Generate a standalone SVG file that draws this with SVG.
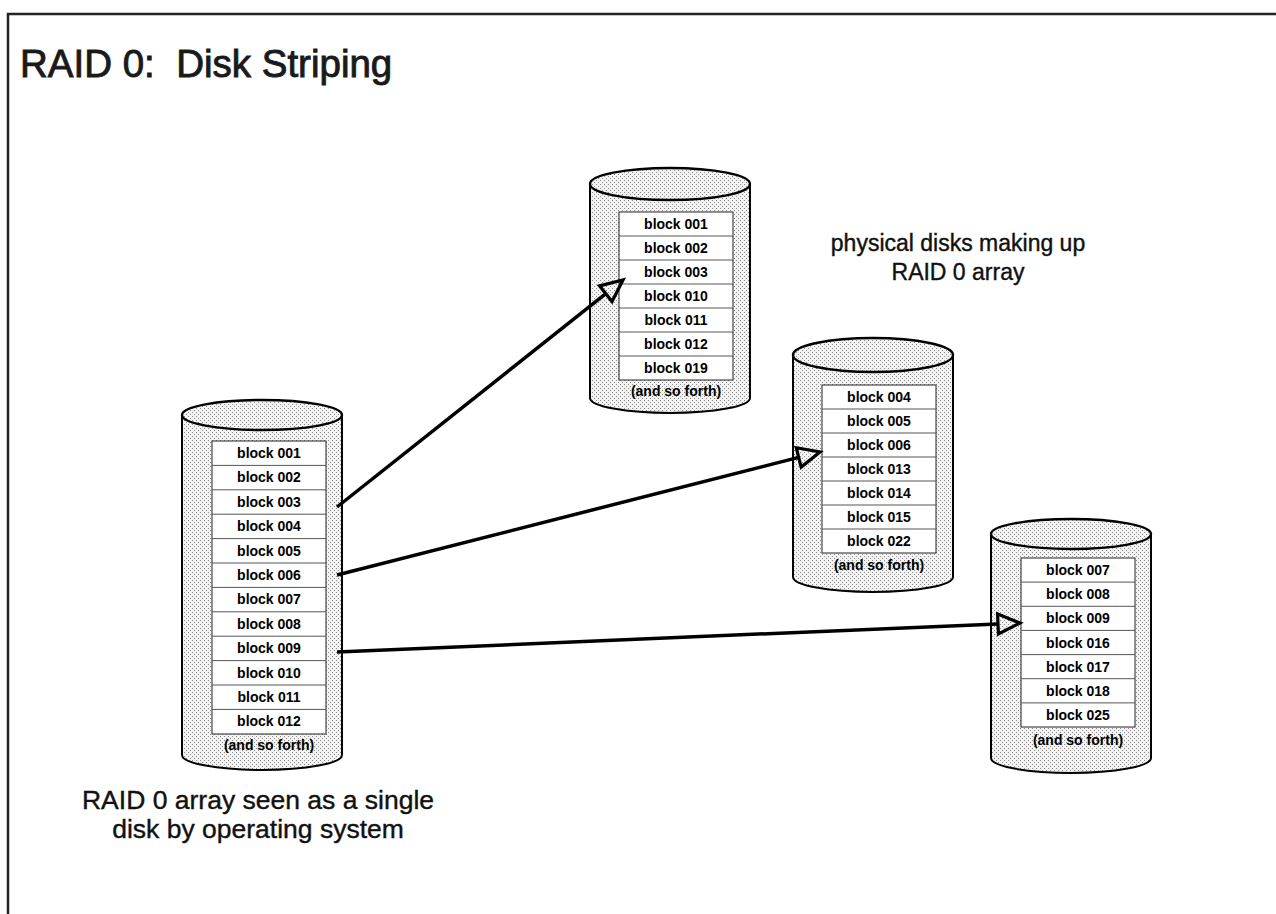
<svg xmlns="http://www.w3.org/2000/svg" width="1276" height="914" viewBox="0 0 1276 914">
  <defs>
    <pattern id="dots" width="4" height="4" patternUnits="userSpaceOnUse">
      <rect width="4" height="4" fill="#f3f3f3"/>
      <rect x="0" y="0" width="1" height="1" fill="#8a8a8a"/>
      <rect x="2" y="2" width="1" height="1" fill="#8a8a8a"/>
    </pattern>
    <marker id="hollow" markerUnits="userSpaceOnUse" markerWidth="32" markerHeight="26" viewBox="0 0 32 26" refX="4" refY="13" orient="auto">
      <path d="M4,3 L26,13 L4,23 Z" fill="none" stroke="#000" stroke-width="3.2" stroke-linejoin="miter"/>
    </marker>
  </defs>
  <style>
    .frame { fill: none; stroke: #222; stroke-width: 2.5; }
    .title { font-family: "Liberation Sans", Arial, sans-serif; font-size: 38.5px; fill: #1a1a1a; stroke: #1a1a1a; stroke-width: 0.9; white-space: pre; }
    .note { font-family: "Liberation Sans", Arial, sans-serif; font-size: 23px; fill: #111; stroke: #111; stroke-width: 0.4; text-anchor: middle; }
    .note-lg { font-size: 26.5px; }
    .body { fill: url(#dots); stroke: #000; stroke-width: 2; }
    .lid { fill: url(#dots); stroke: #000; stroke-width: 2.4; }
    .tbl { fill: #fff; stroke: #222; stroke-width: 1; }
    .row { stroke: #555; stroke-width: 1; }
    .blk { font-family: "Liberation Sans", Arial, sans-serif; font-weight: bold; font-size: 14px; fill: #000; text-anchor: middle; }
    .more { font-family: "Liberation Sans", Arial, sans-serif; font-weight: bold; font-size: 14px; fill: #000; text-anchor: middle; }
    .link { fill: none; stroke: #000; stroke-width: 3.5; marker-end: url(#hollow); }
  </style>

  <rect width="1276" height="914" fill="#fff"/>
  <path class="frame" d="M1276,14 L8,14 L8,914"/>

  <text class="title" x="20" y="77" xml:space="preserve">RAID 0:  Disk Striping</text>

  <!-- logical disk as the operating system sees it -->
  <g id="logical-disk">
    <path class="body" d="M182,415 L182,755 A80,15 0 0 0 342,755 L342,415 Z"/>
    <ellipse class="lid" cx="262" cy="415" rx="80" ry="15"/>
    <rect class="tbl" x="212" y="441" width="114" height="293"/>
    <g class="row">
      <line x1="212" y1="465.4" x2="326" y2="465.4"/>
      <line x1="212" y1="489.8" x2="326" y2="489.8"/>
      <line x1="212" y1="514.2" x2="326" y2="514.2"/>
      <line x1="212" y1="538.6" x2="326" y2="538.6"/>
      <line x1="212" y1="563" x2="326" y2="563"/>
      <line x1="212" y1="587.4" x2="326" y2="587.4"/>
      <line x1="212" y1="611.8" x2="326" y2="611.8"/>
      <line x1="212" y1="636.2" x2="326" y2="636.2"/>
      <line x1="212" y1="660.6" x2="326" y2="660.6"/>
      <line x1="212" y1="685" x2="326" y2="685"/>
      <line x1="212" y1="709.4" x2="326" y2="709.4"/>
    </g>
    <text class="blk" x="269" y="458">block 001</text>
    <text class="blk" x="269" y="482.4">block 002</text>
    <text class="blk" x="269" y="506.8">block 003</text>
    <text class="blk" x="269" y="531.2">block 004</text>
    <text class="blk" x="269" y="555.6">block 005</text>
    <text class="blk" x="269" y="580">block 006</text>
    <text class="blk" x="269" y="604.4">block 007</text>
    <text class="blk" x="269" y="628.8">block 008</text>
    <text class="blk" x="269" y="653.2">block 009</text>
    <text class="blk" x="269" y="677.6">block 010</text>
    <text class="blk" x="269" y="702">block 011</text>
    <text class="blk" x="269" y="726.4">block 012</text>
    <text class="more" x="269" y="750">(and so forth)</text>
  </g>

  <!-- physical disk 1 -->
  <g id="disk-1">
    <path class="body" d="M590,184 L590,398 A80,15 0 0 0 750,398 L750,184 Z"/>
    <ellipse class="lid" cx="670" cy="184" rx="80" ry="16"/>
    <rect class="tbl" x="619" y="212" width="114" height="168"/>
    <g class="row">
      <line x1="619" y1="236" x2="733" y2="236"/>
      <line x1="619" y1="260" x2="733" y2="260"/>
      <line x1="619" y1="284" x2="733" y2="284"/>
      <line x1="619" y1="308" x2="733" y2="308"/>
      <line x1="619" y1="332" x2="733" y2="332"/>
      <line x1="619" y1="356" x2="733" y2="356"/>
    </g>
    <text class="blk" x="676" y="229">block 001</text>
    <text class="blk" x="676" y="253">block 002</text>
    <text class="blk" x="676" y="277">block 003</text>
    <text class="blk" x="676" y="301">block 010</text>
    <text class="blk" x="676" y="325">block 011</text>
    <text class="blk" x="676" y="349">block 012</text>
    <text class="blk" x="676" y="373">block 019</text>
    <text class="more" x="676" y="396">(and so forth)</text>
  </g>

  <!-- physical disk 2 -->
  <g id="disk-2">
    <path class="body" d="M793,355 L793,577 A80,15 0 0 0 953,577 L953,355 Z"/>
    <ellipse class="lid" cx="873" cy="355" rx="80" ry="17"/>
    <rect class="tbl" x="822" y="385" width="114" height="168"/>
    <g class="row">
      <line x1="822" y1="409" x2="936" y2="409"/>
      <line x1="822" y1="433" x2="936" y2="433"/>
      <line x1="822" y1="457" x2="936" y2="457"/>
      <line x1="822" y1="481" x2="936" y2="481"/>
      <line x1="822" y1="505" x2="936" y2="505"/>
      <line x1="822" y1="529" x2="936" y2="529"/>
    </g>
    <text class="blk" x="879" y="402">block 004</text>
    <text class="blk" x="879" y="426">block 005</text>
    <text class="blk" x="879" y="450">block 006</text>
    <text class="blk" x="879" y="474">block 013</text>
    <text class="blk" x="879" y="498">block 014</text>
    <text class="blk" x="879" y="522">block 015</text>
    <text class="blk" x="879" y="546">block 022</text>
    <text class="more" x="879" y="570">(and so forth)</text>
  </g>

  <!-- physical disk 3 -->
  <g id="disk-3">
    <path class="body" d="M991,534 L991,758 A80,15 0 0 0 1151,758 L1151,534 Z"/>
    <ellipse class="lid" cx="1071" cy="534" rx="80" ry="15"/>
    <rect class="tbl" x="1021" y="558" width="114" height="169"/>
    <g class="row">
      <line x1="1021" y1="582.1" x2="1135" y2="582.1"/>
      <line x1="1021" y1="606.3" x2="1135" y2="606.3"/>
      <line x1="1021" y1="630.4" x2="1135" y2="630.4"/>
      <line x1="1021" y1="654.6" x2="1135" y2="654.6"/>
      <line x1="1021" y1="678.7" x2="1135" y2="678.7"/>
      <line x1="1021" y1="702.9" x2="1135" y2="702.9"/>
    </g>
    <text class="blk" x="1078" y="575">block 007</text>
    <text class="blk" x="1078" y="599.2">block 008</text>
    <text class="blk" x="1078" y="623.4">block 009</text>
    <text class="blk" x="1078" y="647.6">block 016</text>
    <text class="blk" x="1078" y="671.8">block 017</text>
    <text class="blk" x="1078" y="696">block 018</text>
    <text class="blk" x="1078" y="720.2">block 025</text>
    <text class="more" x="1078" y="745">(and so forth)</text>
  </g>

  <g id="label-physical">
    <text class="note" x="958" y="251">physical disks making up</text>
    <text class="note" x="958" y="280">RAID 0 array</text>
  </g>
  <g id="label-logical">
    <text class="note note-lg" x="258" y="809">RAID 0 array seen as a single</text>
    <text class="note note-lg" x="258" y="838">disk by operating system</text>
  </g>

  <!-- stripe mapping arrows -->
  <g id="connectors">
    <line class="link" x1="337" y1="507" x2="605.8" y2="293.7"/>
    <line class="link" x1="337" y1="575" x2="798.7" y2="457.4"/>
    <line class="link" x1="337" y1="652" x2="998" y2="623.9"/>
  </g>
</svg>
